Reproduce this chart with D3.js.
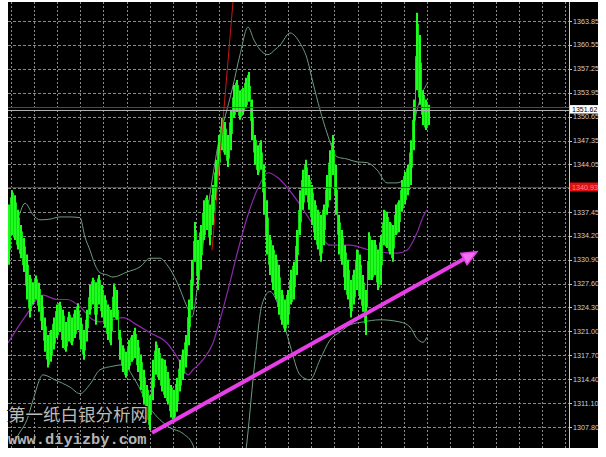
<!DOCTYPE html>
<html><head><meta charset="utf-8">
<script src="https://cdn.jsdelivr.net/npm/d3@7"></script>
<style>body{margin:0;background:#fff;}svg{display:block;}</style>
</head><body>
<script>
// ---- data ----
const tickLabels = ["1363.85","1360.55","1357.25","1353.95","1350.65","1347.35","1344.05","1340.75","1337.45","1334.20","1330.90","1327.60","1324.30","1321.00","1317.70","1314.40","1311.10","1307.80"];
const highs = [1338.5,1340.5,1339.8,1337.8,1335.7,1333.9,1331.6,1328.8,1327.8,1328.7,1327.7,1326.0,1322.9,1320.5,1321.2,1322.9,1324.7,1325.1,1324.0,1322.3,1323.7,1322.9,1324.0,1324.9,1322.9,1321.2,1324.0,1327.4,1328.4,1327.8,1328.8,1327.4,1326.0,1324.7,1324.0,1327.6,1326.7,1321.2,1319.1,1318.2,1319.8,1320.5,1321.5,1319.8,1317.8,1315.7,1313.6,1312.2,1317.1,1319.6,1318.7,1317.3,1317.1,1315.4,1313.6,1312.9,1314.6,1317.1,1318.5,1320.5,1325.4,1330.9,1336.1,1333.6,1335.7,1339.1,1339.8,1338.5,1341.2,1344.7,1348.1,1350.5,1349.9,1348.1,1351.6,1355.0,1355.7,1354.3,1354.6,1356.0,1356.8,1353.0,1348.1,1346.7,1347.4,1344.0,1339.1,1334.3,1332.9,1331.6,1330.2,1326.7,1325.4,1326.7,1329.5,1330.6,1335.0,1340.5,1343.3,1344.7,1342.6,1341.2,1339.1,1337.8,1337.1,1338.5,1342.6,1346.0,1348.1,1344.0,1337.1,1335.0,1332.9,1330.9,1328.1,1329.5,1332.3,1331.6,1328.8,1326.7,1334.7,1333.6,1333.6,1332.3,1334.3,1337.8,1337.5,1336.1,1335.7,1338.5,1339.1,1341.9,1343.0,1344.0,1347.4,1353.0,1365.0,1361.9,1354.3,1353.0,1352.3];
const lows = [1330.2,1334.3,1333.6,1332.3,1331.1,1329.2,1325.4,1322.9,1324.7,1325.4,1323.7,1321.2,1318.2,1316.0,1316.8,1318.5,1320.1,1320.9,1318.7,1318.2,1319.6,1319.1,1320.1,1321.2,1318.5,1317.1,1319.6,1323.3,1324.7,1321.9,1324.7,1322.9,1321.5,1319.8,1319.1,1322.9,1322.6,1317.1,1315.4,1314.6,1315.7,1316.8,1317.3,1315.4,1312.9,1310.9,1308.8,1307.4,1311.5,1315.0,1314.3,1312.7,1311.8,1310.9,1309.1,1308.5,1309.9,1312.7,1314.3,1316.0,1319.1,1324.0,1330.6,1326.7,1329.5,1333.6,1335.0,1332.9,1335.7,1339.1,1342.6,1346.0,1345.4,1343.7,1346.0,1350.5,1351.3,1350.2,1350.9,1351.8,1352.7,1347.4,1344.0,1342.6,1343.3,1337.1,1331.6,1328.8,1326.7,1325.4,1323.3,1321.9,1320.9,1321.9,1324.7,1325.4,1328.8,1334.3,1337.8,1339.8,1337.8,1335.7,1333.6,1332.3,1330.6,1332.9,1337.1,1339.1,1342.6,1337.1,1331.6,1330.2,1326.7,1325.4,1322.9,1324.7,1326.7,1325.4,1323.7,1320.5,1328.1,1328.1,1328.8,1326.7,1327.4,1332.9,1332.5,1331.6,1330.6,1334.3,1334.7,1337.5,1338.5,1339.8,1341.2,1346.0,1354.3,1352.3,1349.5,1348.8,1349.5];
// Bollinger bands: [bar index, price]
const upperBand = [[1,1335.7],[2.67,1336.4],[5.33,1338.7],[8,1337.1],[10.33,1336.4],[13.67,1336.5],[17,1336.8],[20.33,1336.8],[23.67,1336.7],[25.33,1334.0],[27,1332.2],[28.67,1330.2],[30.33,1329.1],[32.67,1328.8],[34.67,1328.5],[39.33,1329.2],[43.67,1329.9],[47,1331.1],[50.33,1331.1],[52.67,1330.2],[56,1327.8],[59.33,1324.4],[61,1323.0],[62.67,1326.7],[65.33,1335.0],[68,1342.6],[70.33,1348.1],[72,1350.6],[74.33,1354.3],[77,1359.2],[79.67,1363.0],[81.67,1361.2],[83.67,1359.9],[86.33,1359.2],[88.67,1359.9],[90.33,1360.5],[93.67,1362.2],[97,1360.8],[99.33,1358.7],[101.33,1355.3],[103.67,1351.6],[106,1348.4],[109.33,1345.1],[112.67,1344.8],[116,1344.4],[119.33,1344.3],[122.67,1343.3],[126,1341.5],[129.33,1341.5],[132,1342.2],[133.67,1344.7],[135.33,1350.2],[137,1353.0],[139.67,1355.4]];
const middleBand = [[-0.33,1319.4],[5.33,1323.0],[11.33,1326.0],[16,1325.4],[19.33,1325.4],[23.67,1324.4],[28,1322.6],[30.33,1322.3],[34.67,1322.6],[38,1322.9],[42.67,1321.9],[47,1320.8],[52.67,1319.4],[56,1317.5],[59.67,1315.0],[61.33,1315.7],[64.67,1317.1],[68,1319.4],[70.33,1322.6],[73,1326.7],[76.33,1332.2],[79.67,1337.1],[83,1340.8],[86.33,1342.9],[89.67,1342.2],[92.67,1340.9],[96,1339.1],[100.33,1336.4],[103.67,1334.3],[107,1332.9],[113.67,1332.9],[120.33,1332.2],[129.33,1331.8],[132.67,1332.2],[136,1334.6],[138,1336.8],[139.33,1337.8]];
const lowerBand = [[1,1305.3],[3.67,1307.1],[6,1308.8],[8,1311.5],[11.33,1315.0],[15.33,1314.3],[20.33,1313.3],[23.67,1312.4],[27,1313.7],[30.33,1315.7],[34.67,1316.2],[38,1316.4],[42,1314.3],[47,1310.4],[50.33,1308.8],[53.67,1307.7],[58,1306.9],[61.33,1305.3],[63,1302.6],[65.33,1299.1],[77,1299.1],[79,1304.6],[81.67,1315.7],[84.33,1324.7],[87,1326.5],[90.33,1324.0],[93.67,1319.1],[97,1315.0],[100.33,1314.3],[103.67,1317.1],[107,1319.8],[110.33,1320.9],[113.67,1321.9],[118,1322.3],[123.67,1322.6],[130.33,1322.3],[133.67,1321.6],[136,1320.0],[138,1319.5],[139.33,1320.2]];
const redLevels = [1351.98, 1340.93];
const redLevelLabel = "1340.93";
const bidPrice = 1351.62;
const trendLine = [[74.67,1366.5],[67.67,1332.2]];
const arrowLine = [[47.67,1307.0],[156,1332.0]];
const watermark1 = "第一纸白银分析网";
const watermark2 = "www.diyizby.com";

// ---- layout ----
const W=606,H=457;
const plot={l:8,r:598,t:2,b:448};
const axisX=569;
const svg=d3.select("body").append("svg").attr("width",W).attr("height",H);
svg.append("rect").attr("width",W).attr("height",H).attr("fill","#fff");
svg.append("rect").attr("x",plot.l).attr("y",plot.t).attr("width",plot.r-plot.l).attr("height",plot.b-plot.t).attr("fill","#000");

const x=d3.scaleLinear().domain([0,140]).range([9,429]);
const y=d3.scaleLinear().domain([1307.80,1363.85]).range([427,21]);

const defs=svg.append("defs");
defs.append("clipPath").attr("id","pc").append("rect").attr("x",plot.l).attr("y",plot.t).attr("width",axisX-plot.l).attr("height",plot.b-plot.t);
defs.append("clipPath").attr("id","pa").append("rect").attr("x",plot.l).attr("y",plot.t).attr("width",plot.r-plot.l).attr("height",plot.b-plot.t);

const g=svg.append("g").attr("clip-path","url(#pc)");
const grid=g.append("g");
const vticks=d3.range(0.667,187,7.7);
grid.selectAll("line.v").data(vticks).join("line").attr("class","v")
  .attr("x1",d=>Math.round(x(d))+0.5).attr("x2",d=>Math.round(x(d))+0.5)
  .attr("y1",plot.t).attr("y2",plot.b)
  .attr("stroke","#8a8a8a").attr("stroke-dasharray","2,2");
const tickVals=tickLabels.map(Number);
grid.selectAll("line.h").data(tickVals).join("line").attr("class","h")
  .attr("x1",plot.l).attr("x2",axisX)
  .attr("y1",d=>Math.round(y(d))+0.5).attr("y2",d=>Math.round(y(d))+0.5)
  .attr("stroke","#8a8a8a").attr("stroke-dasharray","3,2");

// bands
const line=d3.line().x(d=>x(d[0])).y(d=>y(d[1])).curve(d3.curveMonotoneX);
g.append("path").attr("d",line(upperBand)).attr("fill","none").attr("stroke","#6f9a80").attr("stroke-width",1);
g.append("path").attr("d",line(lowerBand)).attr("fill","none").attr("stroke","#6f9a80").attr("stroke-width",1);
g.append("path").attr("d",line(middleBand)).attr("fill","none").attr("stroke","#8a2aa8").attr("stroke-width",1.2);

// bars
const bars=highs.map((h,i)=>({i,h,l:lows[i]}));
g.selectAll("line.bar").data(bars).join("line").attr("class","bar")
  .attr("x1",d=>x(d.i)).attr("x2",d=>x(d.i))
  .attr("y1",d=>y(d.h)).attr("y2",d=>y(d.l))
  .attr("stroke","#1cff1c").attr("stroke-width",2);
// thin swings between bars
g.selectAll("line.sw").data(bars.slice(1)).join("line").attr("class","sw")
  .attr("x1",d=>x(d.i-0.5)).attr("x2",d=>x(d.i-0.5))
  .attr("y1",d=>y((d.h+bars[d.i-1].h)/2)).attr("y2",d=>y((d.l+bars[d.i-1].l)/2))
  .attr("stroke","#14d814").attr("stroke-width",1);

// red trend line
g.append("path").attr("d",d3.line().x(d=>x(d[0])).y(d=>y(d[1]))(trendLine)).attr("stroke","#c81818").attr("stroke-width",1).attr("fill","none");

// arrow
const a0=[x(arrowLine[0][0]),y(arrowLine[0][1])],a1=[x(arrowLine[1][0]),y(arrowLine[1][1])];
const ang=Math.atan2(a1[1]-a0[1],a1[0]-a0[0]);
const hl=15,hw=6.5;
const bx=a1[0]-hl*Math.cos(ang),by=a1[1]-hl*Math.sin(ang);
g.append("line").attr("x1",a0[0]).attr("y1",a0[1]).attr("x2",bx).attr("y2",by).attr("stroke","#e83ee8").attr("stroke-width",4);
g.append("polygon").attr("points",[[a1[0],a1[1]],[bx-hw*Math.sin(ang),by+hw*Math.cos(ang)],[bx+hw*Math.sin(ang),by-hw*Math.cos(ang)]].map(p=>p.join(",")).join(" "))
  .attr("fill","#f070f0").attr("stroke","#e83ee8").attr("stroke-width",1.5);

// horizontal levels (span into axis)
const ga=svg.append("g").attr("clip-path","url(#pa)");
ga.selectAll("line.red").data(redLevels).join("line").attr("class","red")
  .attr("x1",plot.l).attr("x2",plot.r).attr("y1",d=>Math.round(y(d))+0.5).attr("y2",d=>Math.round(y(d))+0.5)
  .attr("stroke","#d01010").attr("stroke-width",1.2);
ga.append("line").attr("x1",plot.l).attr("x2",plot.r).attr("y1",Math.round(y(bidPrice))+0.5).attr("y2",Math.round(y(bidPrice))+0.5).attr("stroke","#b0b0b0").attr("stroke-width",1);

// axis
svg.append("line").attr("x1",axisX+0.5).attr("x2",axisX+0.5).attr("y1",plot.t).attr("y2",plot.b).attr("stroke","#c8c8c8");
const ax=svg.append("g");
ax.selectAll("line.t").data(tickVals).join("line").attr("class","t")
  .attr("x1",axisX).attr("x2",axisX+3).attr("y1",d=>Math.round(y(d))+0.5).attr("y2",d=>Math.round(y(d))+0.5).attr("stroke","#c8c8c8");
ax.selectAll("text").data(tickLabels).join("text")
  .attr("x",axisX+4).attr("y",d=>y(+d)+2.5).text(d=>d)
  .attr("font-family","Liberation Sans, Arial, sans-serif").attr("font-size",7.2).attr("fill","#d0d0d0");

// bid label (drawn over the 1350.65 label, as in the terminal)
const by0=y(bidPrice);
svg.append("rect").attr("x",axisX+1).attr("y",by0-4.5).attr("width",28).attr("height",8.5).attr("fill","#fff");
svg.append("text").attr("x",axisX+3).attr("y",by0+2.3).text(bidPrice.toFixed(2))
  .attr("font-family","Liberation Sans, Arial, sans-serif").attr("font-size",7).attr("fill","#000");
// red level label
const ry=y(redLevels[1]);
svg.append("rect").attr("x",axisX+1).attr("y",ry-4.5).attr("width",28).attr("height",9).attr("fill","#e01010");
svg.append("text").attr("x",axisX+3).attr("y",ry+2.5).text(redLevelLabel)
  .attr("font-family","Liberation Sans, Arial, sans-serif").attr("font-size",7.2).attr("fill","#ff8a8a");

// watermark
const wm=svg.append("g");
wm.append("text").attr("x",8).attr("y",421).text(watermark1).attr("font-family","Noto Sans CJK SC").attr("font-size",17.5)
  .attr("fill","#bcbcbc").attr("stroke","#000").attr("stroke-width",2).attr("paint-order","stroke");
wm.append("text").attr("x",8).attr("y",444).text(watermark2).attr("font-family","Liberation Mono, DejaVu Sans Mono, monospace").attr("font-weight","bold").attr("font-size",15.4).attr("fill","#b4b4b4");
</script>
</body></html>
